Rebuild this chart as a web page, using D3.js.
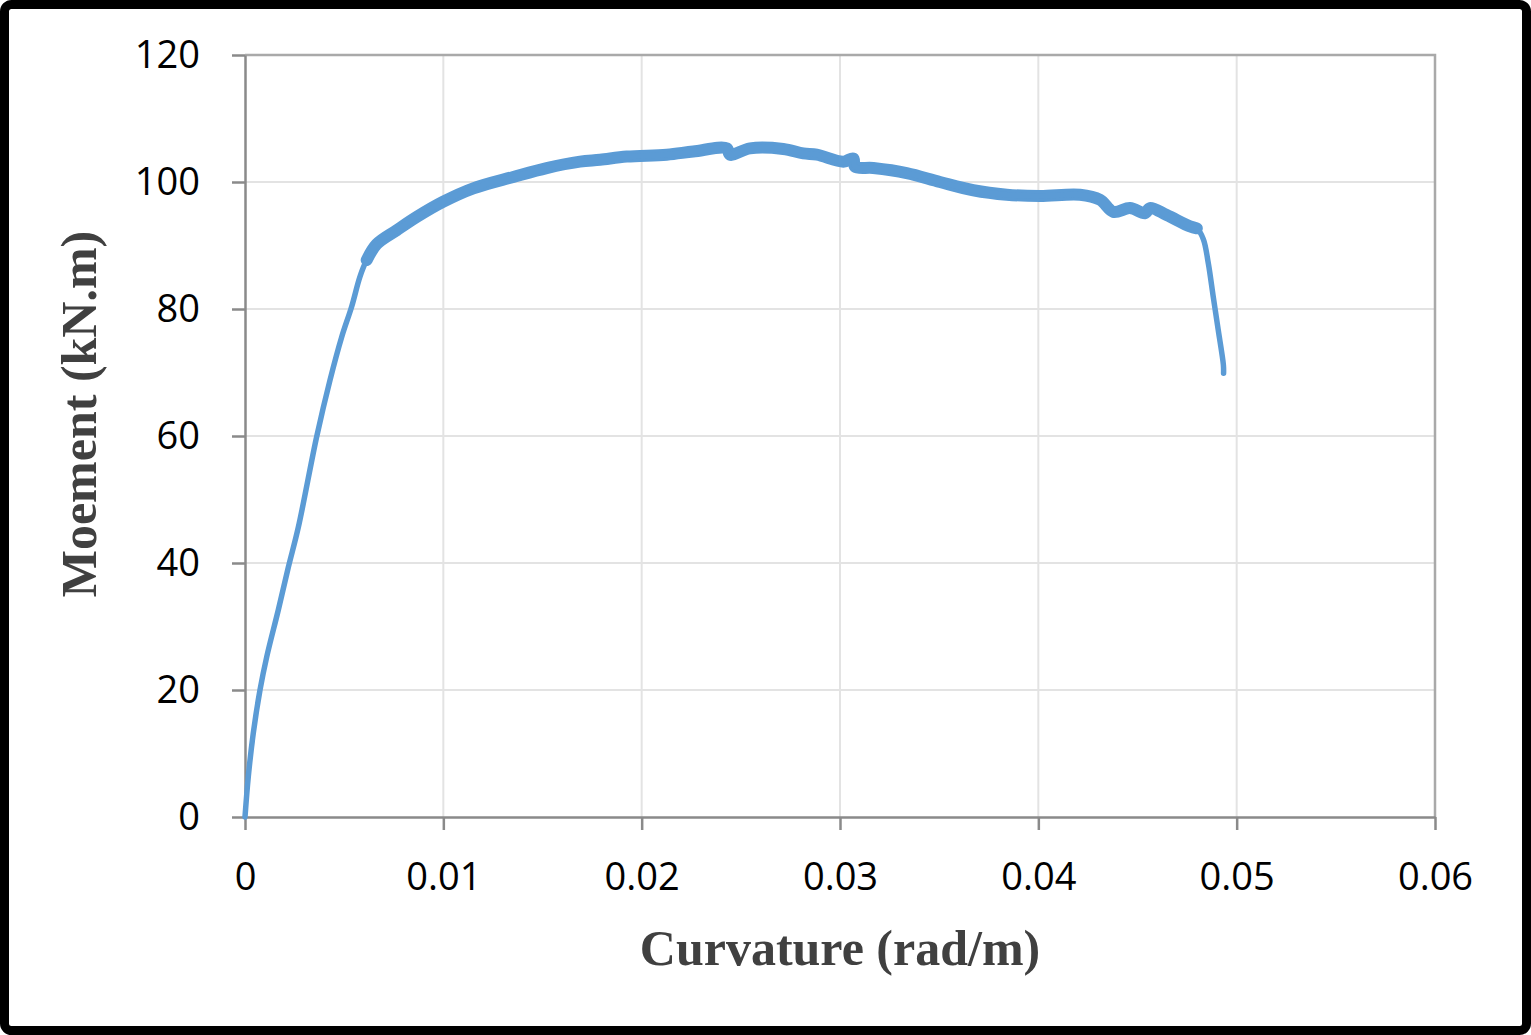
<!DOCTYPE html>
<html>
<head>
<meta charset="utf-8">
<script src="https://cdn.jsdelivr.net/npm/d3@7"></script>
<style>
body { margin: 0; background: #fff; }
svg { display: block; }
</style>
</head>
<body>
<svg></svg>
<script>
// curvature (rad/m) and moment (kN.m)
const curvature = [0, 0.000166, 0.000418, 0.000756, 0.001094, 0.001679, 0.002183, 0.002687, 0.003615, 0.004286,
  0.004876, 0.00538, 0.005798, 0.006136, 0.00664, 0.00765, 0.00866, 0.0100, 0.01151, 0.01353,
  0.01521, 0.01689, 0.0179, 0.01925, 0.02126, 0.0226, 0.02429, 0.02445, 0.02546, 0.02714,
  0.02815, 0.02883, 0.03017, 0.03067, 0.03076, 0.03168, 0.03336, 0.03504, 0.03672, 0.03841,
  0.04008, 0.0421, 0.04311, 0.04378, 0.04462, 0.04538, 0.04563, 0.04647, 0.04765, 0.04799,
  0.04832, 0.04857, 0.04882, 0.04907, 0.04933, 0.04934];
const moment = [0, 6.35, 13.2, 20.0, 25.2, 32.6, 39.3, 45.6, 59.9, 68.8,
  75.6, 80.4, 85.1, 87.7, 90.2, 92.4, 94.5, 96.9, 99.0, 100.8,
  102.2, 103.2, 103.5, 104.0, 104.3, 104.8, 105.3, 104.3, 105.3, 105.2,
  104.5, 104.3, 103.2, 103.7, 102.4, 102.2, 101.4, 100.0, 98.7, 98.0,
  97.8, 98.0, 97.2, 95.3, 95.9, 95.1, 95.9, 94.8, 93.0, 92.7,
  91.0, 87.2, 81.9, 76.7, 71.2, 69.9];

const xTicks = [0, 0.01, 0.02, 0.03, 0.04, 0.05, 0.06];
const yTicks = [0, 20, 40, 60, 80, 100, 120];

const W = 1531, H = 1035;
const margin = { top: 55, right: 96, bottom: 218, left: 245 },
  width = W - margin.left - margin.right,
  height = H - margin.top - margin.bottom;

const root = d3.select("svg").attr("width", W).attr("height", H);

// black frame
root.append("rect")
  .attr("x", 4.5).attr("y", 4.5)
  .attr("width", W - 9).attr("height", H - 9)
  .attr("rx", 7)
  .attr("fill", "#fff")
  .attr("stroke", "#000")
  .attr("stroke-width", 9);

const svg = root.append("g")
  .attr("transform", `translate(${margin.left},${margin.top})`);

const x = d3.scaleLinear().domain([0, 0.06]).range([0, width]);
const y = d3.scaleLinear().domain([0, 120]).range([height, 0]);

// grid
svg.append("g").selectAll("line")
  .data(xTicks.slice(1, -1))
  .join("line")
  .attr("x1", d => x(d)).attr("x2", d => x(d))
  .attr("y1", 0).attr("y2", height)
  .attr("stroke", "#e3e3e3").attr("stroke-width", 2);

svg.append("g").selectAll("line")
  .data(yTicks.slice(1, -1))
  .join("line")
  .attr("x1", 0).attr("x2", width)
  .attr("y1", d => y(d)).attr("y2", d => y(d))
  .attr("stroke", "#e3e3e3").attr("stroke-width", 2);

// plot-area border top / right
svg.append("path")
  .attr("d", `M0,${y(120)}H${x(0.06)}V${height}`)
  .attr("fill", "none")
  .attr("stroke", "#a9a9a9")
  .attr("stroke-width", 2.5);

const fmt = d => d === 0 ? "0" : String(d);

const xAxis = d3.axisBottom(x).tickValues(xTicks).tickFormat(fmt)
  .tickSizeInner(13).tickSizeOuter(0).tickPadding(33);
const yAxis = d3.axisLeft(y).tickValues(yTicks).tickFormat(fmt)
  .tickSizeInner(13).tickSizeOuter(0).tickPadding(32);

const gx = svg.append("g")
  .attr("transform", `translate(0,${height})`)
  .call(xAxis);
const gy = svg.append("g").call(yAxis);

[gx, gy].forEach(g => {
  g.select(".domain").attr("stroke", "#8a8a8a").attr("stroke-width", 2.5);
  g.selectAll(".tick line").attr("stroke", "#8a8a8a").attr("stroke-width", 2.5);
  g.selectAll(".tick text")
    .attr("fill", "#000")
    .style("font-family", "'Open Sans', sans-serif")
    .style("font-size", "38px");
});

const pts = curvature.map((c, i) => ({ c, m: moment[i] }));

const line = d3.line()
  .curve(d3.curveCatmullRom.alpha(0.5))
  .x(d => x(d.c))
  .y(d => y(d.m));

// scatter band of the noisy plastic range
svg.append("path")
  .datum(pts.filter(d => d.c >= 0.0058 && d.c <= 0.048))
  .attr("d", line)
  .attr("fill", "none")
  .attr("stroke", "#5b9bd5")
  .attr("stroke-width", 12)
  .attr("stroke-linejoin", "round")
  .attr("stroke-linecap", "round");

svg.append("path")
  .datum(pts)
  .attr("d", line)
  .attr("fill", "none")
  .attr("stroke", "#5b9bd5")
  .attr("stroke-width", 5.5)
  .attr("stroke-linejoin", "round")
  .attr("stroke-linecap", "round");

// axis titles
root.append("text")
  .attr("x", margin.left + width / 2)
  .attr("y", 965)
  .attr("text-anchor", "middle")
  .attr("fill", "#404040")
  .style("font-family", "'Liberation Serif', 'Times New Roman', serif")
  .style("font-weight", "bold")
  .style("font-size", "50px")
  .text("Curvature (rad/m)");

root.append("text")
  .attr("transform", `translate(96,414) rotate(-90)`)
  .attr("text-anchor", "middle")
  .attr("fill", "#404040")
  .style("font-family", "'Liberation Serif', 'Times New Roman', serif")
  .style("font-weight", "bold")
  .style("font-size", "50px")
  .text("Moement (kN.m)");
</script>
</body>
</html>
